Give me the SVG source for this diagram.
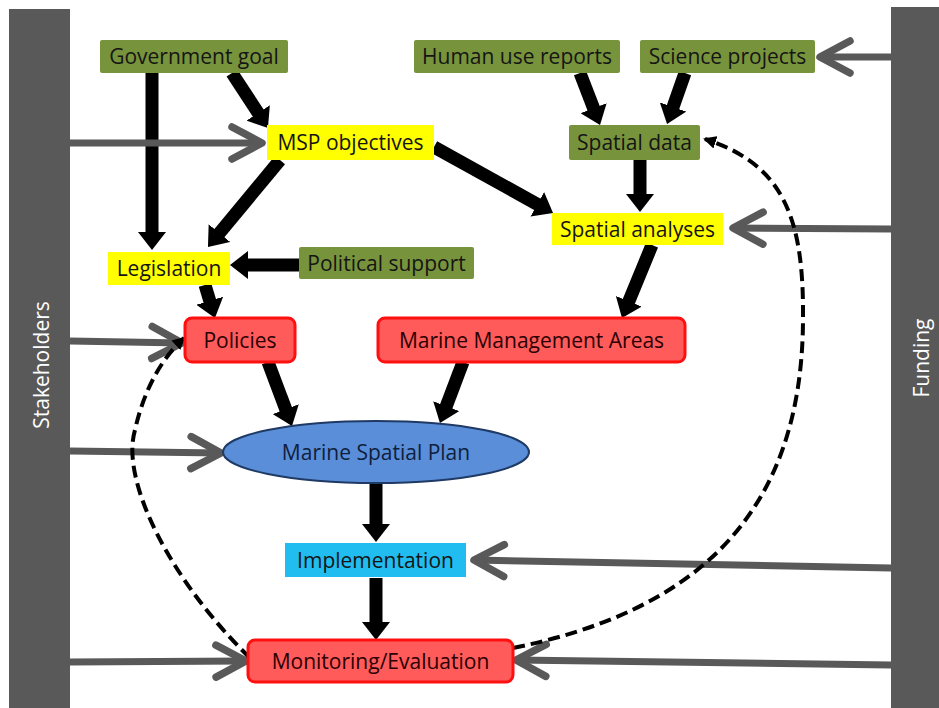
<svg xmlns="http://www.w3.org/2000/svg" width="939" height="708" viewBox="0 0 939 708">
<style>
text{font-family:"Open Sans","Liberation Sans",sans-serif;font-size:21px;text-anchor:middle;fill:#151515}
.g{fill:#77933C}
.y{fill:#FFFF00}
.r{fill:#FF5B5B;stroke:#FF1010;stroke-width:3}
.bar{fill:#595959}
.blk{stroke:#000;stroke-width:13;fill:none;marker-end:url(#bh)}
.gry{stroke:#595959;stroke-width:7;fill:none;marker-end:url(#gh)}
.dash{stroke:#000;stroke-width:4;fill:none;stroke-dasharray:12 6;marker-end:url(#dh)}
.w{fill:#fff}
</style>
<defs>
<marker id="bh" markerUnits="userSpaceOnUse" viewBox="0 0 18 28" markerWidth="18" markerHeight="28" refX="4" refY="14" orient="auto"><path d="M0,0 L18,14 L0,28 z" fill="#000"/></marker>
<marker id="gh" markerUnits="userSpaceOnUse" viewBox="-36 -22 40 44" markerWidth="40" markerHeight="44" refX="0" refY="0" orient="auto" overflow="visible"><path d="M-30,-16 L0,0 L-30,16" fill="none" stroke="#595959" stroke-width="7.5" stroke-linecap="round" stroke-linejoin="round"/></marker>
<marker id="dh" markerUnits="userSpaceOnUse" viewBox="0 0 13 13" markerWidth="13" markerHeight="13" refX="11" refY="6.5" orient="auto"><path d="M0,0 L13,6.5 L0,13 z" fill="#000"/></marker>
</defs>

<g id="stakeholders"><rect class="bar" x="9" y="9" width="61" height="699"/><text class="w" transform="translate(49,365) rotate(-90)">Stakeholders</text></g>
<g id="funding"><rect class="bar" x="891" y="7" width="48" height="701"/><text class="w" transform="translate(929,358) rotate(-90)">Funding</text></g>

<g id="connectors">
<line class="blk" x1="152" y1="73" x2="152" y2="236"/>
<line class="blk" x1="232" y1="73" x2="260.3" y2="116.3"/>
<line class="blk" x1="280" y1="160" x2="216.9" y2="236.2"/>
<line class="blk" x1="299" y1="265" x2="244" y2="265"/>
<line class="blk" x1="205" y1="285" x2="210.9" y2="304.6"/>
<line class="blk" x1="434" y1="147" x2="540.8" y2="206.2"/>
<line class="blk" x1="580" y1="73" x2="595" y2="111.9"/>
<line class="blk" x1="685" y1="73" x2="671.7" y2="110.8"/>
<line class="blk" x1="640" y1="160" x2="640" y2="198"/>
<line class="blk" x1="652" y1="245" x2="627.3" y2="305"/>
<line class="blk" x1="268" y1="362" x2="287.1" y2="412.9"/>
<line class="blk" x1="463" y1="362" x2="444.9" y2="409.9"/>
<line class="blk" x1="376" y1="483" x2="376" y2="528"/>
<line class="blk" x1="376" y1="578" x2="376" y2="626"/>
<line class="gry" x1="70" y1="143" x2="262" y2="143"/>
<line class="gry" x1="70" y1="341" x2="182" y2="343"/>
<line class="gry" x1="70" y1="451" x2="221" y2="453"/>
<line class="gry" x1="70" y1="662" x2="246" y2="661"/>
<line class="gry" x1="891" y1="57" x2="820" y2="57"/>
<line class="gry" x1="891" y1="229" x2="733" y2="228"/>
<line class="gry" x1="891" y1="568" x2="474" y2="560"/>
<line class="gry" x1="891" y1="665" x2="516" y2="660"/>
<path class="dash" d="M513,648 C690,612 802,520 803,320 C804,220 785,165 705,139"/>
<path class="dash" d="M250,658 C170,580 120,480 135,430 C145,385 165,355 184,338"/>
</g>

<g id="government-goal"><rect class="g" x="100" y="40" width="188" height="33" rx="2"/><text x="194" y="64">Government goal</text></g>
<g id="human-use-reports"><rect class="g" x="414" y="40" width="206" height="33" rx="2"/><text x="517" y="64">Human use reports</text></g>
<g id="science-projects"><rect class="g" x="640" y="40" width="175" height="33" rx="2"/><text x="727.5" y="64">Science projects</text></g>
<g id="msp-objectives"><rect class="y" x="267" y="125" width="167" height="35"/><text x="350.5" y="150">MSP objectives</text></g>
<g id="spatial-data"><rect class="g" x="569" y="125" width="131" height="35" rx="2"/><text x="634.5" y="150">Spatial data</text></g>
<g id="spatial-analyses"><rect class="y" x="552" y="213" width="171" height="32"/><text x="637.5" y="236.5">Spatial analyses</text></g>
<g id="legislation"><rect class="y" x="108" y="252" width="122" height="33"/><text x="169" y="276">Legislation</text></g>
<g id="political-support"><rect class="g" x="299" y="247" width="175" height="32" rx="2"/><text x="386.5" y="270.5">Political support</text></g>
<g id="policies"><rect class="r" x="185" y="318" width="110" height="44" rx="7"/><text x="240" y="347.5" style="fill:#2a0000">Policies</text></g>
<g id="marine-management-areas"><rect class="r" x="378" y="318" width="307" height="44" rx="7"/><text x="531.5" y="347.5" style="fill:#2a0000">Marine Management Areas</text></g>
<g id="marine-spatial-plan"><ellipse cx="376" cy="452" rx="153" ry="31" fill="#5A8ED8" stroke="#1F3A64" stroke-width="2"/><text x="376" y="459.5" style="fill:#0F1E3C">Marine Spatial Plan</text></g>
<g id="implementation"><rect x="285" y="543" width="181" height="34" fill="#21BDF0"/><text x="375.5" y="567.5">Implementation</text></g>
<g id="monitoring-evaluation"><rect class="r" x="248" y="640" width="265" height="42" rx="7"/><text x="380.5" y="668.5" style="fill:#2a0000">Monitoring/Evaluation</text></g>
</svg>
